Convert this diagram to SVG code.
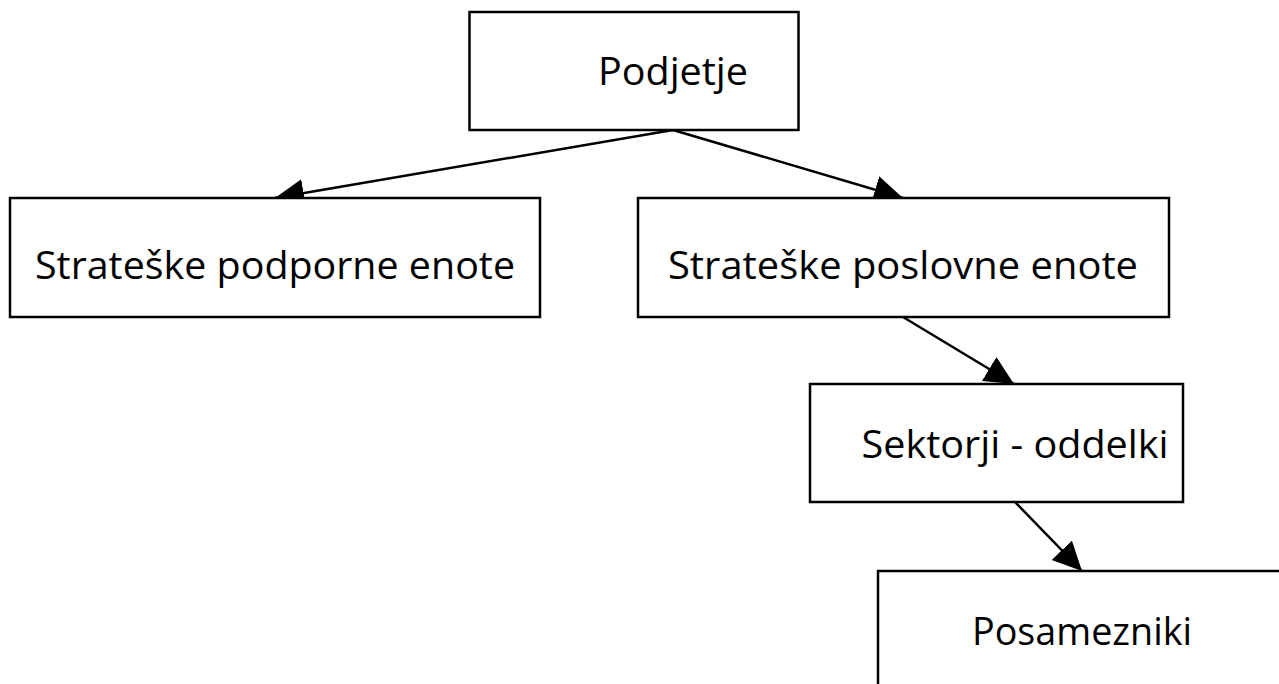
<svg xmlns="http://www.w3.org/2000/svg" width="1279" height="684" viewBox="0 0 1279 684">
<style>
.box{fill:#fff;stroke:#000;stroke-width:2.5}
.lbl{font-family:"Open Sans","Liberation Sans",sans-serif;font-size:39px;fill:#000;text-anchor:middle}
.edge{stroke:#000;stroke-width:2.5;fill:none;marker-end:url(#ah)}
</style>
<defs>
<marker id="ah" markerUnits="userSpaceOnUse" markerWidth="32" markerHeight="30" refX="29" refY="14" orient="auto">
<path d="M0,0 L29,14 L0,28 Z" fill="#000"/>
</marker>
</defs>
<rect width="1279" height="684" fill="#fff"/>
<g id="connectors">
<line class="edge" x1="673" y1="130" x2="275" y2="198"/>
<line class="edge" x1="673" y1="130" x2="903" y2="198"/>
<line class="edge" x1="903" y1="317" x2="1014" y2="384"/>
<line class="edge" x1="1015" y1="502" x2="1082" y2="571"/>
</g>
<g id="podjetje">
<rect class="box" x="469.5" y="12" width="329" height="118"/>
<text class="lbl" x="673" y="85" textLength="150" lengthAdjust="spacingAndGlyphs">Podjetje</text>
</g>
<g id="podporne">
<rect class="box" x="10" y="198" width="530" height="119"/>
<text class="lbl" x="275" y="279" textLength="480" lengthAdjust="spacingAndGlyphs">Strateške podporne enote</text>
</g>
<g id="poslovne">
<rect class="box" x="638" y="198" width="531" height="119"/>
<text class="lbl" x="903" y="279" textLength="470" lengthAdjust="spacingAndGlyphs">Strateške poslovne enote</text>
</g>
<g id="sektorji">
<rect class="box" x="810" y="384" width="373" height="118"/>
<text class="lbl" x="1015" y="458" textLength="307" lengthAdjust="spacingAndGlyphs">Sektorji - oddelki</text>
</g>
<g id="posamezniki">
<rect class="box" x="878" y="571" width="410" height="130"/>
<text class="lbl" x="1082" y="645" textLength="220" lengthAdjust="spacingAndGlyphs">Posamezniki</text>
</g>
</svg>
